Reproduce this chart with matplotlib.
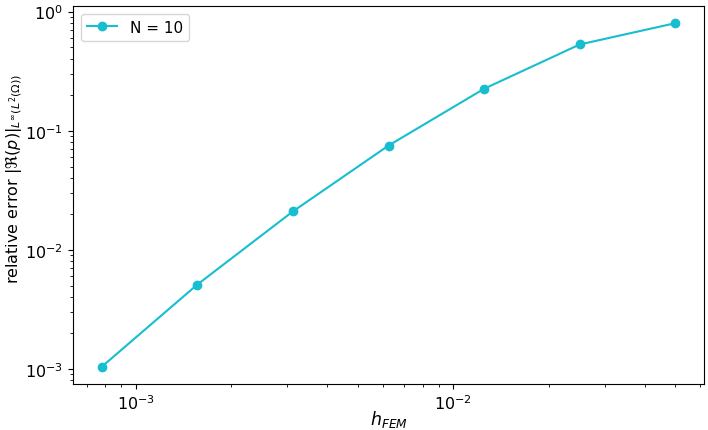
import matplotlib
matplotlib.use("Agg")
import matplotlib.pyplot as plt

# mesh sizes and relative errors for N = 10
h_fem = [0.05, 0.025, 0.0125, 0.00625, 0.003125, 0.0015625, 0.00078125]
rel_error = [0.80, 0.53, 0.225, 0.075, 0.021, 0.0051, 0.00104]
series_label = "N = 10"

fig, ax = plt.subplots(figsize=(7.08, 4.31), dpi=100)
fig.subplots_adjust(left=73 / 708, right=704 / 708, top=1 - 7 / 431, bottom=1 - 385 / 431)

ax.plot(h_fem, rel_error, marker="o", color="#17becf", linewidth=1.5,
        markersize=6, label=series_label)
ax.set_xscale("log")
ax.set_yscale("log")
ax.set_xlabel(r"$h_{FEM}$", fontsize=12.5, labelpad=-3)
ax.set_ylabel(r"relative error $|\Re(p)|_{L^\infty(L^2(\Omega))}$", fontsize=11.5)
ax.yaxis.set_label_coords(-0.077, 0.545)
ax.tick_params(labelsize=11.5)
ax.legend(loc="upper left", fontsize=11)

fig.savefig("out.png", dpi=100)
